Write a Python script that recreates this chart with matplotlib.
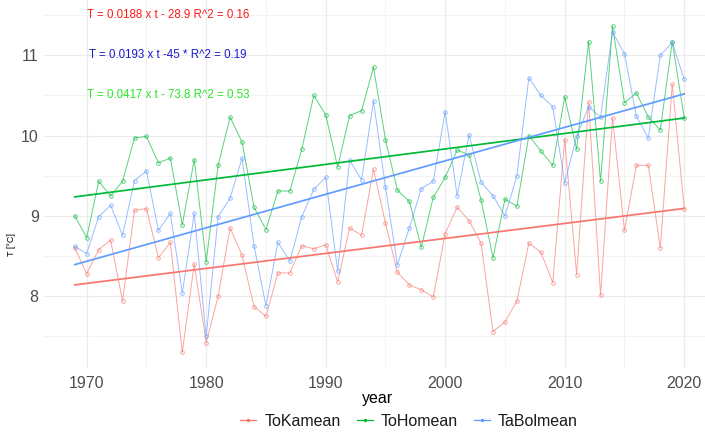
import numpy as np
import matplotlib
matplotlib.use("Agg")
import matplotlib.pyplot as plt
from matplotlib.lines import Line2D

plt.rcParams["font.family"] = ["Liberation Sans", "DejaVu Sans"]

years = np.arange(1969, 2021)

to_ka_mean = [8.60, 8.28, 8.58, 8.70, 7.94, 9.07, 9.09, 8.48, 8.67, 7.30,
              8.40, 7.42, 8.00, 8.85, 8.51, 7.87, 7.75, 8.29, 8.29, 8.63,
              8.59, 8.64, 8.18, 8.85, 8.76, 9.58, 8.91, 8.30, 8.14, 8.08,
              7.99, 8.78, 9.11, 8.94, 8.66, 7.56, 7.68, 7.94, 8.66, 8.55,
              8.17, 9.95, 8.27, 10.42, 8.01, 10.22, 8.82, 9.63, 9.63, 8.60,
              10.64, 9.09]

to_ho_mean = [9.00, 8.73, 9.43, 9.25, 9.43, 9.97, 9.99, 9.66, 9.72, 8.89,
              9.70, 8.43, 9.63, 10.23, 9.92, 9.11, 8.83, 9.31, 9.31, 9.83,
              10.50, 10.26, 9.61, 10.25, 10.31, 10.85, 9.95, 9.32, 9.18, 8.61,
              9.23, 9.48, 9.82, 9.76, 9.20, 8.48, 9.21, 9.12, 10.00, 9.81,
              9.63, 10.48, 9.83, 11.17, 9.43, 11.36, 10.41, 10.53, 10.23, 10.07,
              11.17, 10.22]

ta_bol_mean = [8.62, 8.53, 8.99, 9.13, 8.76, 9.44, 9.56, 8.82, 9.03, 8.04,
               9.03, 7.50, 8.99, 9.22, 9.72, 8.63, 7.88, 8.67, 8.44, 8.99,
               9.33, 9.48, 8.31, 9.69, 9.45, 10.43, 9.36, 8.39, 8.85, 9.34,
               9.43, 10.30, 9.25, 10.01, 9.42, 9.25, 9.00, 9.50, 10.72, 10.50,
               10.36, 9.41, 9.99, 10.36, 10.23, 11.29, 11.02, 10.24, 9.97, 11.00,
               11.16, 10.70]

series_names = ["ToKamean", "ToHomean", "TaBolmean"]
series_values = [to_ka_mean, to_ho_mean, ta_bol_mean]
series_colors = ["#F8766D", "#00BA38", "#619CFF"]

equation_texts = ["T = 0.0188 x t - 28.9 R^2 = 0.16",
                  "T = 0.0193 x t -45 * R^2 = 0.19",
                  "T = 0.0417 x t - 73.8 R^2 = 0.53"]
equation_colors = ["#FF1A1A", "#1A1ACC", "#2AE62A"]
equation_y = [11.5, 11.0, 10.5]
equation_x = 1976.8

W, H = 705, 434
fig = plt.figure(figsize=(W / 100, H / 100), dpi=100)

# panel limits with 5 % expansion on each side
x_lo, x_hi = years.min(), years.max()
x_pad = 0.05 * (x_hi - x_lo)
y_lo = min(min(v) for v in series_values)
y_hi = max(max(max(v) for v in series_values), max(equation_y))
y_pad = 0.05 * (y_hi - y_lo)
xlim = (x_lo - x_pad, x_hi + x_pad)
ylim = (y_lo - y_pad, y_hi + y_pad)

# pixel placement of the panel
px_per_year = 11.95
px_per_deg = 80.3
left_px = 86.7 - (1970 - xlim[0]) * px_per_year
width_px = (xlim[1] - xlim[0]) * px_per_year
top_px = 55.3 - (ylim[1] - 11) * px_per_deg
height_px = (ylim[1] - ylim[0]) * px_per_deg
ax = fig.add_axes([left_px / W, 1 - (top_px + height_px) / H,
                   width_px / W, height_px / H])
ax.set_xlim(*xlim)
ax.set_ylim(*ylim)

for spine in ax.spines.values():
    spine.set_visible(False)

ax.set_xticks([1970, 1980, 1990, 2000, 2010, 2020])
ax.set_xticks([1975, 1985, 1995, 2005, 2015], minor=True)
ax.set_yticks([8, 9, 10, 11])
ax.set_yticks([7.5, 8.5, 9.5, 10.5, 11.5], minor=True)
ax.grid(which="major", color="#EBEBEB", linewidth=0.9)
ax.grid(which="minor", color="#F1F1F1", linewidth=0.6)
ax.set_axisbelow(True)
ax.tick_params(which="both", length=0)
ax.tick_params(axis="both", labelsize=11.5, colors="#4D4D4D", pad=4)
ax.tick_params(axis="x", pad=5)

for name, vals, col in zip(series_names, series_values, series_colors):
    vals = np.asarray(vals)
    ax.plot(years, vals, color=col, lw=0.7, alpha=0.65,
            marker="o", ms=2.6, mfc="none", mew=0.7, zorder=2)
    slope, intercept = np.polyfit(years, vals, 1)
    ax.plot(years, slope * years + intercept, color=col, lw=1.25, zorder=3)

for txt, col, yv in zip(equation_texts, equation_colors, equation_y):
    ax.text(equation_x, yv, txt, color=col, fontsize=8.3,
            ha="center", va="center", zorder=4)

fig.text(378 / W, 1 - 399 / H, "year", ha="center", va="center",
         fontsize=11.5, color="black")
fig.text(12 / W, 1 - 245 / H, "T [°C]", ha="center", va="center",
         rotation=90, fontsize=6.5, color="black")

handles = [Line2D([], [], color=c, lw=0.9, marker="o", ms=1.5)
           for c in series_colors]
fig.legend(handles, series_names, loc="center", ncol=3,
           bbox_to_anchor=(409 / W, 1 - 421 / H), frameon=False,
           fontsize=11.5, handlelength=1.0, handletextpad=0.5,
           columnspacing=1.0, labelcolor="#1A1A1A")

fig.savefig("out.png", dpi=100)
